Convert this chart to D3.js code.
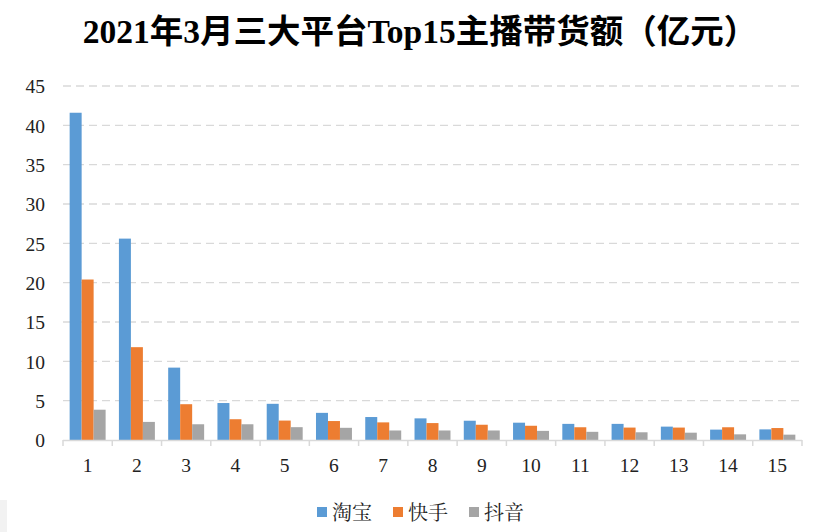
<!DOCTYPE html>
<html><head><meta charset="utf-8">
<script src="https://cdn.jsdelivr.net/npm/d3@7"></script>
<style>
html,body{margin:0;padding:0;background:#fff;}
svg{display:block;}
</style></head>
<body>
<svg id="chart" width="816" height="532"></svg>
<script>
const categories = ["1","2","3","4","5","6","7","8","9","10","11","12","13","14","15"];
const seriesNames = ["淘宝","快手","抖音"];
const taobao  = [41.6, 25.6, 9.2, 4.7, 4.6, 3.45, 2.92, 2.75, 2.45, 2.2, 2.05, 2.05, 1.7, 1.32, 1.35];
const kuaishou = [20.4, 11.8, 4.55, 2.64, 2.47, 2.41, 2.24, 2.15, 1.94, 1.81, 1.62, 1.58, 1.58, 1.62, 1.52];
const douyin  = [3.85, 2.3, 2.0, 2.0, 1.63, 1.55, 1.21, 1.21, 1.21, 1.16, 1.04, 0.98, 0.93, 0.72, 0.68];
const yTicks = [0,5,10,15,20,25,30,35,40,45];
const title = "2021年3月三大平台Top15主播带货额（亿元）";
const colors = ["#5b9bd5","#ed7d31","#a5a5a5"];

(function(){
const seriesValues = [taobao, kuaishou, douyin];
const data = categories.map((c,i)=>({cat:c, vals: seriesValues.map(s=>s[i])}));

const svg = d3.select("#chart");
const mLeft = 63, mRight = 802, mTop = 86, mBottom = 440;

// faint decoration at lower-left
svg.append("rect").attr("x",0).attr("y",500).attr("width",7).attr("height",32).attr("fill","#f2f2f2");

svg.append("text")
  .attr("x", 420).attr("y", 43)
  .attr("text-anchor","middle")
  .attr("font-family","'Liberation Serif','Noto Sans CJK SC',serif")
  .attr("font-weight","bold")
  .attr("font-size",33.5)
  .attr("fill","#000")
  .text(title);

const x = d3.scaleBand().domain(categories).range([mLeft,mRight]).paddingInner(0).paddingOuter(0);
const y = d3.scaleLinear().domain([0,45]).range([mBottom,mTop]);

const inset = x.bandwidth()*0.135;
const x1 = d3.scaleBand().domain(d3.range(3)).range([0, x.bandwidth()-2*inset]).padding(0);

// grid
const grid = svg.append("g");
grid.selectAll("line").data(yTicks.filter(t=>t>0)).join("line")
  .attr("x1", mLeft).attr("x2", mRight)
  .attr("y1", d=>y(d)).attr("y2", d=>y(d))
  .attr("stroke","#d9d9d9").attr("stroke-width",1.3).attr("stroke-dasharray","8,5");

// y axis labels
const yAxis = d3.axisLeft(y).tickValues(yTicks).tickSize(0).tickPadding(0).tickFormat(d3.format("d"));
const yg = svg.append("g").attr("transform",`translate(${mLeft-18},0)`).call(yAxis);
yg.select(".domain").remove();
yg.selectAll("text").attr("font-family","'Liberation Serif',serif").attr("font-size",19.5).attr("fill","#222").attr("dy","0.35em");

// bars
const groups = svg.append("g").selectAll("g").data(data).join("g")
  .attr("transform", d=>`translate(${x(d.cat)+inset},0)`);
groups.selectAll("rect").data(d=>d.vals.map((v,i)=>({i,v}))).join("rect")
  .attr("x", d=>x1(d.i)).attr("width", x1.bandwidth())
  .attr("y", d=>y(d.v)).attr("height", d=>mBottom - y(d.v))
  .attr("fill", d=>colors[d.i]);

// x axis
const xg = svg.append("g").attr("transform",`translate(0,${mBottom})`);
xg.append("line").attr("x1",mLeft).attr("x2",mRight).attr("y1",0.5).attr("y2",0.5).attr("stroke","#d9d9d9").attr("stroke-width",1.5);
const bounds = categories.map(c=>x(c)).concat([x(categories[categories.length-1])+x.bandwidth()]);
xg.selectAll("line.tk").data(bounds).join("line").attr("class","tk")
  .attr("x1",d=>d).attr("x2",d=>d).attr("y1",0).attr("y2",6).attr("stroke","#d9d9d9").attr("stroke-width",1.5);
xg.selectAll("text").data(categories).join("text")
  .attr("x", d=>x(d)+x.bandwidth()/2).attr("y", 32)
  .attr("text-anchor","middle")
  .attr("font-family","'Liberation Serif',serif").attr("font-size",19.5).attr("fill","#222")
  .text(d=>d);

// legend
const legendX = [317, 393, 469];
const lg = svg.append("g");
seriesNames.forEach((n,i)=>{
  lg.append("rect").attr("x",legendX[i]).attr("y",507).attr("width",10).attr("height",10).attr("fill",colors[i]);
  lg.append("text").attr("x",legendX[i]+15).attr("y",520)
    .attr("font-family","'Noto Serif CJK SC','Noto Sans CJK SC',sans-serif").attr("font-size",20).attr("fill","#222")
    .text(n);
});
})();
</script>
</body></html>
